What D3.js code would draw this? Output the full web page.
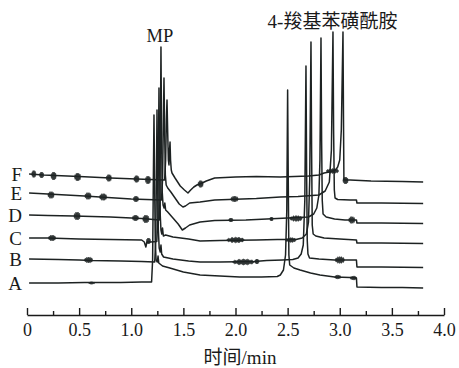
<!DOCTYPE html>
<html><head><meta charset="utf-8">
<script src="https://cdn.jsdelivr.net/npm/d3@7/dist/d3.min.js"></script>
<style>
html,body{margin:0;padding:0;background:#fff;}
svg{display:block;}
</style></head>
<body>
<svg id="chart" width="459" height="368"></svg>
<script>
// ---- data ----
const traceNames = ["A","B","C","D","E","F"];
const xTicks = [0,0.5,1.0,1.5,2.0,2.5,3.0,3.5,4.0];
const xTickLabels = ["0","0.5","1.0","1.5","2.0","2.5","3.0","3.5","4.0"];
const xMinorTicks = [0.25,0.75,1.25,1.75,2.25,2.75,3.25,3.75];
const peakLabels = ["MP","4-羧基苯磺酰胺"];
const xTitle = "时间/min";

// [time(min), stacked signal]
const traceA = [[0.02,17],[0.30,17],[0.55,17.5],[0.90,17.5],[1.10,18],[1.195,18],
 [1.205,40],[1.212,120],[1.218,185],[1.224,120],[1.230,60],[1.238,40],[1.250,38],[1.257,44],[1.264,37],[1.30,34],[1.37,32],[1.50,28],[1.66,25],[1.85,24],[2.04,23],[2.25,23],[2.40,23.5],
 [2.43,25],[2.46,30],[2.48,45],[2.492,90],[2.50,210],[2.506,120],[2.512,45],[2.52,35],[2.56,32],[2.62,30],[2.72,27],[2.81,25],[2.95,23],[3.10,22.5],[3.16,22],[3.165,13],[3.40,12.5],[3.60,12.5],[3.80,12]];
const traceB = [[0.02,41],[0.30,40.5],[0.50,40],[0.62,39.5],[0.90,39],[1.10,38.5],[1.225,38],
 [1.235,60],[1.242,130],[1.247,190],[1.253,120],[1.260,70],[1.268,52],[1.278,48],[1.285,55],[1.292,46],[1.31,43],[1.40,41],[1.55,39],[1.66,38],[1.85,38],[2.18,38.5],[2.30,39.5],[2.45,40],[2.55,40.5],
 [2.60,42],[2.63,46],[2.65,55],[2.665,100],[2.676,234],[2.682,130],[2.688,60],[2.695,46],[2.71,42],[2.80,41],[2.95,40],[3.16,40],[3.165,33],[3.40,33],[3.80,32.5]];
const traceC = [[0.02,62],[0.20,62],[0.50,61],[0.80,60.5],[1.10,60],[1.125,58],[1.14,53],[1.15,58],[1.185,58],[1.245,58.5],
 [1.255,80],[1.261,150],[1.266,212],[1.272,140],[1.278,85],[1.285,70],[1.293,66],[1.30,72],[1.308,64],[1.33,65],[1.40,63],[1.55,61],[1.66,59],[1.85,59.5],[2.20,60],[2.40,60.5],[2.58,60.5],
 [2.64,62],[2.68,66],[2.70,78],[2.712,120],[2.724,258],[2.73,150],[2.736,75],[2.745,66],[2.77,64],[2.85,62],[3.00,61],[3.16,60],[3.165,57],[3.40,57],[3.80,56.5]];
const traceD = [[0.02,85],[0.20,84.5],[0.45,84],[0.80,83],[1.00,82],[1.10,81.5],[1.27,80],
 [1.275,100],[1.28,170],[1.285,253],[1.29,180],[1.296,110],[1.305,95],[1.315,92],[1.322,97],[1.33,90],[1.35,88],[1.40,82],[1.45,76],[1.49,70],[1.52,72],[1.56,75],[1.66,78],[1.80,79.5],
 [2.10,80],[2.30,81],[2.70,83],
 [2.75,86],[2.78,92],[2.80,105],[2.81,140],[2.82,262],[2.826,160],[2.832,100],[2.84,86],[2.87,83],[2.95,81],[3.05,80],[3.16,80],[3.165,77],[3.40,77],[3.80,76.5]];
const traceE = [[0.02,107],[0.20,106],[0.55,104],[0.70,103],[1.00,101],[1.29,100],
 [1.30,120],[1.307,170],[1.314,222],[1.32,170],[1.327,125],[1.335,115],[1.35,112],[1.38,108],[1.42,102],[1.46,96],[1.496,93],[1.52,94],[1.56,97],[1.66,98],[1.80,100],[2.20,101.5],[2.43,103],[2.60,103.5],
 [2.80,105],[2.86,109],[2.90,118],[2.92,150],[2.935,268],[2.941,170],[2.948,110],[2.955,102],[2.98,100.5],[3.10,100],[3.16,100],[3.165,97],[3.40,97],[3.80,96.5]];
const traceF = [[0.02,126],[0.16,125],[0.50,123.5],[0.80,122],[1.05,121],[1.32,120],
 [1.33,140],[1.337,180],[1.343,200],[1.349,170],[1.356,140],[1.362,135],[1.367,150],[1.372,158],[1.377,140],[1.384,130],[1.391,127],[1.42,122],[1.47,114],[1.51,110],[1.544,107],[1.57,110],[1.60,113],[1.63,115],[1.68,117],[1.72,119],[1.80,122],[2.00,123],[2.20,123.5],[2.43,123],[2.70,124],
 [2.80,125],[2.85,127],[2.90,128],[2.96,130],[2.98,133],[3.00,140],[3.015,170],[3.031,268],[3.036,180],[3.04,120],[3.10,120],[3.30,119],[3.60,118.5],[3.80,118]];
const traces = [traceA,traceB,traceC,traceD,traceE,traceF];

// noise bursts: [centre time, signal level, half width (min), amplitude]
const burstsA = [[0.62,17,0.03,1.2],[2.98,23,0.03,2],[3.13,22,0.03,2]];
const burstsB = [[0.59,40,0.04,3],[2.075,38,0.105,3],[2.205,38.5,0.02,2.5],[3.00,40,0.045,3.5]];
const burstsC = [[0.24,62,0.035,3],[1.165,59,0.02,3],[2.00,60,0.085,2.8],[2.53,60,0.05,2.5]];
const burstsD = [[0.48,84,0.03,4],[1.04,82,0.03,3],[1.14,81,0.03,4],[1.955,80,0.02,2],[2.345,81,0.015,2],[2.58,81.5,0.06,3],[3.115,80,0.03,3.5]];
const burstsE = [[0.23,105,0.03,3.5],[0.585,104,0.03,3.5],[0.73,103,0.035,3.5],[1.045,101,0.025,3],[1.99,101,0.035,3]];
const burstsF = [[0.065,126,0.02,3.5],[0.14,125,0.02,3],[0.255,124,0.025,4],[0.485,123,0.03,4],[0.785,122,0.025,3.5],[1.05,121,0.025,3.5],[1.16,120,0.025,4],[1.665,116,0.025,3.5],[2.93,129,0.06,2.5],[3.055,119.5,0.025,3.5]];
const bursts = [burstsA,burstsB,burstsC,burstsD,burstsE,burstsF];
const peakLabelPos = [[1.28,258],[2.94,272]];

// ---- drawing ----
const SERIF = "Liberation Serif";
const SERIF_CJK = "Liberation Serif, Noto Sans CJK SC";
const svg = d3.select("#chart");
const x = d3.scaleLinear().domain([0,4]).range([27,444]);
const y = d3.scaleLinear().domain([0,280]).range([300,20]);
const axisY = 315;
const ink = "#1d2222";

const line = d3.line().x(d=>x(d[0])).y(d=>y(d[1]));
svg.append("g").selectAll("path").data(traces).join("path")
  .attr("d", line)
  .attr("fill","none")
  .attr("stroke",ink)
  .attr("stroke-width",1.5)
  .attr("stroke-linejoin","round");

// noise envelopes (jagged outline template)
const tpl = [[-1,0],[-0.8,0.6],[-0.6,0.4],[-0.4,0.95],[-0.2,0.6],[0,1],[0.2,0.7],[0.4,0.95],[0.6,0.5],[0.8,0.7],[1,0]];
const env = d3.area().x(d=>x(d[0])).y0(d=>y(d[1]-d[2])).y1(d=>y(d[1]+d[2]));
svg.append("g").selectAll("path").data(bursts.flat()).join("path")
  .attr("d", b => env(tpl.map(p=>[b[0]+p[0]*b[2], b[1], p[1]*b[3]])))
  .attr("fill",ink).attr("fill-opacity",0.9).attr("stroke",ink).attr("stroke-width",0.5);

svg.append("g").selectAll("text").data(traces).join("text")
  .attr("x",22).attr("y",d=>y(d[0][1]))
  .attr("dy","0.35em")
  .attr("text-anchor","end")
  .attr("font-family",SERIF).attr("font-size",19).attr("fill","#1a1a1a")
  .text((d,i)=>traceNames[i]);

// axis
const ax = svg.append("g").attr("transform",`translate(0,${axisY})`)
  .call(d3.axisBottom(x).tickValues(xTicks).tickFormat((d,i)=>xTickLabels[i])
        .tickSizeInner(-7).tickSizeOuter(0).tickPadding(8));
ax.attr("font-family",SERIF).attr("font-size",18);
ax.select(".domain").attr("stroke","#1a1a1a").attr("stroke-width",1.6);
ax.selectAll(".tick line").attr("stroke","#1a1a1a").attr("stroke-width",1.4);
ax.selectAll(".tick text").attr("font-family",SERIF).attr("font-size",18).attr("fill","#1a1a1a");
const axm = svg.append("g").attr("transform",`translate(0,${axisY})`)
  .call(d3.axisBottom(x).tickValues(xMinorTicks).tickFormat("").tickSizeInner(-4).tickSizeOuter(0));
axm.select(".domain").remove();
axm.selectAll(".tick line").attr("stroke","#1a1a1a").attr("stroke-width",1.4);

svg.append("text").attr("x",240).attr("y",364).attr("text-anchor","middle")
  .attr("font-family",SERIF_CJK).attr("font-size",19).attr("fill","#1a1a1a").text(xTitle);

svg.append("text").attr("x",x(peakLabelPos[0][0])-0.5).attr("y",y(peakLabelPos[0][1]))
  .attr("text-anchor","middle").attr("font-family",SERIF).attr("font-size",18.5).attr("fill","#1a1a1a").text(peakLabels[0]);
svg.append("text").attr("x",x(peakLabelPos[1][0])-1).attr("y",y(peakLabelPos[1][1]))
  .attr("text-anchor","middle").attr("font-family",SERIF_CJK).attr("font-size",19).attr("fill","#1a1a1a").text(peakLabels[1]);
</script>
</body></html>
